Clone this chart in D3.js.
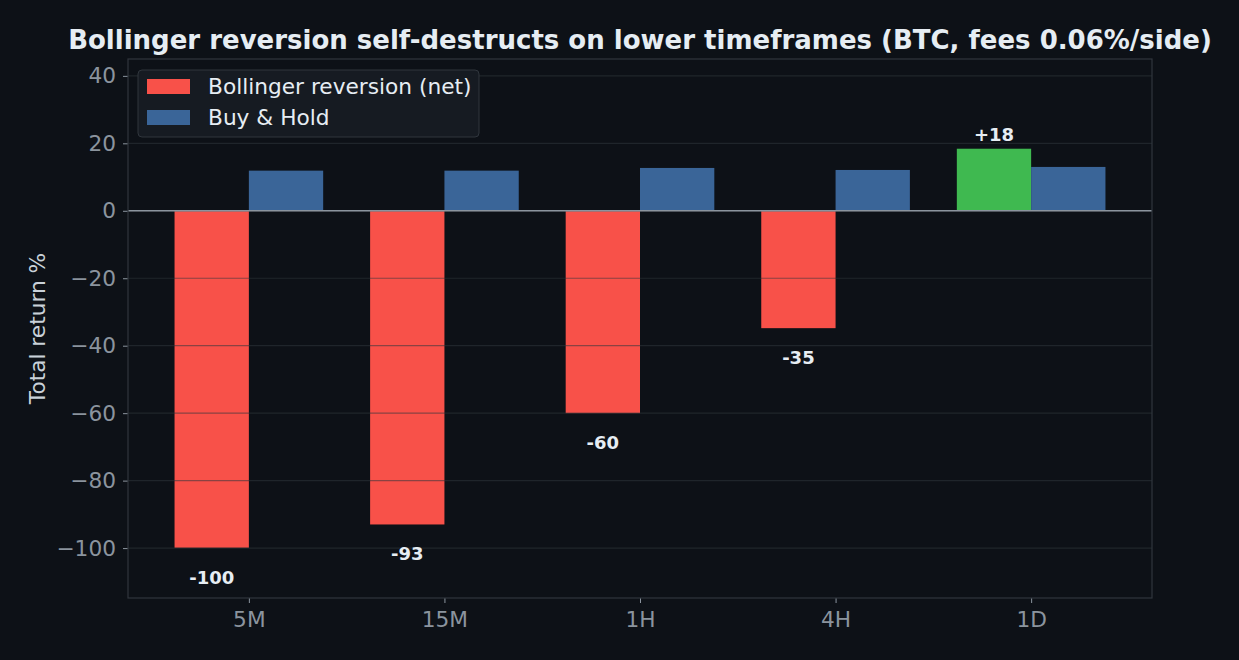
<!DOCTYPE html>
<html>
<head>
<meta charset="utf-8">
<script src="https://cdn.jsdelivr.net/npm/d3@7"></script>
<style>
  html, body { margin: 0; padding: 0; background: #0d1117; }
  svg { display: block; font-family: "DejaVu Sans", sans-serif; }
</style>
</head>
<body>
<svg id="chart" width="1239" height="660"></svg>
<script>
// --------- data -----------
var timeframes = ["5M", "15M", "1H", "4H", "1D"];
var strategyReturns = [-99.9, -93.0, -60.0, -34.8, 18.4];
var holdReturns = [11.9, 11.9, 12.7, 12.1, 13.0];
var barLabels = ["-100", "-93", "-60", "-35", "+18"];
var yTicks = [40, 20, 0, -20, -40, -60, -80, -100];

var colors = {
  bg: "#0d1117",
  red: "#f85149",
  green: "#3fb950",
  blue: "#3a6598",
  spine: "#30363d",
  grid: "#30363d",
  tick: "#8b949e",
  text: "#e6edf3",
  label: "#c9d1d9"
};

var margin = { left: 128, right: 1239 - 1152, top: 59, bottom: 660 - 598 };
var width = 1239, height = 660;
var barW = 0.38;

var svg = d3.select("#chart");
svg.append("rect").attr("width", width).attr("height", height).attr("fill", colors.bg);

var x = d3.scaleLinear()
  .domain([-0.618, timeframes.length - 1 + 0.618])
  .range([margin.left, width - margin.right]);

var y = d3.scaleLinear()
  .domain([-114.8, 45])
  .range([height - margin.bottom, margin.top]);

var plot = svg.append("g");

// strategy bars (left of tick)
plot.selectAll(".strat")
  .data(strategyReturns)
  .enter()
  .append("rect")
    .attr("class", "strat")
    .attr("x", function(d, i) { return x(i - barW); })
    .attr("width", function() { return x(barW) - x(0); })
    .attr("y", function(d) { return y(Math.max(0, d)); })
    .attr("height", function(d) { return Math.abs(y(d) - y(0)); })
    .attr("fill", function(d) { return d > 0 ? colors.green : colors.red; });

// buy & hold bars (right of tick)
plot.selectAll(".hold")
  .data(holdReturns)
  .enter()
  .append("rect")
    .attr("class", "hold")
    .attr("x", function(d, i) { return x(i); })
    .attr("width", function() { return x(barW) - x(0); })
    .attr("y", function(d) { return y(Math.max(0, d)); })
    .attr("height", function(d) { return Math.abs(y(d) - y(0)); })
    .attr("fill", colors.blue);

// horizontal grid, drawn above the bars like matplotlib does
plot.selectAll(".grid")
  .data(yTicks)
  .enter()
  .append("line")
    .attr("x1", margin.left)
    .attr("x2", width - margin.right)
    .attr("y1", function(d) { return y(d); })
    .attr("y2", function(d) { return y(d); })
    .attr("stroke", colors.grid)
    .attr("stroke-opacity", 0.55)
    .attr("stroke-width", 1.2);

// zero line
plot.append("line")
  .attr("x1", margin.left)
  .attr("x2", width - margin.right)
  .attr("y1", y(0))
  .attr("y2", y(0))
  .attr("stroke", colors.tick)
  .attr("stroke-width", 1.6);

// value labels
plot.selectAll(".val")
  .data(strategyReturns)
  .enter()
  .append("text")
    .attr("x", function(d, i) { return x(i - barW / 2); })
    .attr("y", function(d) { return d < 0 ? y(d) + 36 : y(d) - 8; })
    .attr("text-anchor", "middle")
    .attr("fill", colors.text)
    .style("font-size", "18px")
    .style("font-weight", "bold")
    .text(function(d, i) { return barLabels[i]; });

// axes
var yAxis = svg.append("g")
  .attr("transform", "translate(" + margin.left + ",0)")
  .call(d3.axisLeft(y).tickValues(yTicks).tickSize(5).tickPadding(7)
    .tickFormat(function(d) { return d < 0 ? "\u2212" + Math.abs(d) : d; }));

var xAxis = svg.append("g")
  .attr("transform", "translate(0," + (height - margin.bottom) + ")")
  .call(d3.axisBottom(x).tickValues(d3.range(timeframes.length)).tickSize(5).tickPadding(9)
    .tickFormat(function(d) { return timeframes[d]; }));

[yAxis, xAxis].forEach(function(ax) {
  ax.select(".domain").remove();
  ax.selectAll(".tick line").attr("stroke", colors.tick).attr("stroke-width", 1);
  ax.selectAll(".tick text")
    .attr("fill", colors.tick)
    .style("font-size", "21.7px")
    .style("font-family", "DejaVu Sans");
});

// spines
svg.append("rect")
  .attr("x", margin.left)
  .attr("y", margin.top)
  .attr("width", width - margin.left - margin.right)
  .attr("height", height - margin.top - margin.bottom)
  .attr("fill", "none")
  .attr("stroke", colors.spine)
  .attr("stroke-width", 1.2);

// y label
svg.append("text")
  .attr("transform", "translate(45," + ((margin.top + height - margin.bottom) / 2) + ") rotate(-90)")
  .attr("text-anchor", "middle")
  .attr("fill", colors.label)
  .style("font-size", "21.7px")
  .text("Total return %");

// title
svg.append("text")
  .attr("x", (margin.left + width - margin.right) / 2)
  .attr("y", 49)
  .attr("text-anchor", "middle")
  .attr("fill", colors.text)
  .style("font-size", "26px")
  .style("font-weight", "bold")
  .text("Bollinger reversion self-destructs on lower timeframes (BTC, fees 0.06%/side)");

// legend
var legendItems = [
  { name: "Bollinger reversion (net)", color: colors.red },
  { name: "Buy & Hold", color: colors.blue }
];
var legend = svg.append("g").attr("transform", "translate(138,70)");
legend.append("rect")
  .attr("width", 341)
  .attr("height", 67)
  .attr("rx", 4)
  .attr("fill", "#161b22")
  .attr("stroke", colors.spine)
  .attr("stroke-width", 1);

var entries = legend.selectAll(".entry")
  .data(legendItems)
  .enter()
  .append("g")
    .attr("transform", function(d, i) { return "translate(9," + (9 + i * 31) + ")"; });
entries.append("rect")
  .attr("width", 43)
  .attr("height", 15)
  .attr("fill", function(d) { return d.color; });
entries.append("text")
  .attr("x", 61)
  .attr("y", 15)
  .attr("fill", colors.text)
  .style("font-size", "21.7px")
  .text(function(d) { return d.name; });
</script>
</body>
</html>
